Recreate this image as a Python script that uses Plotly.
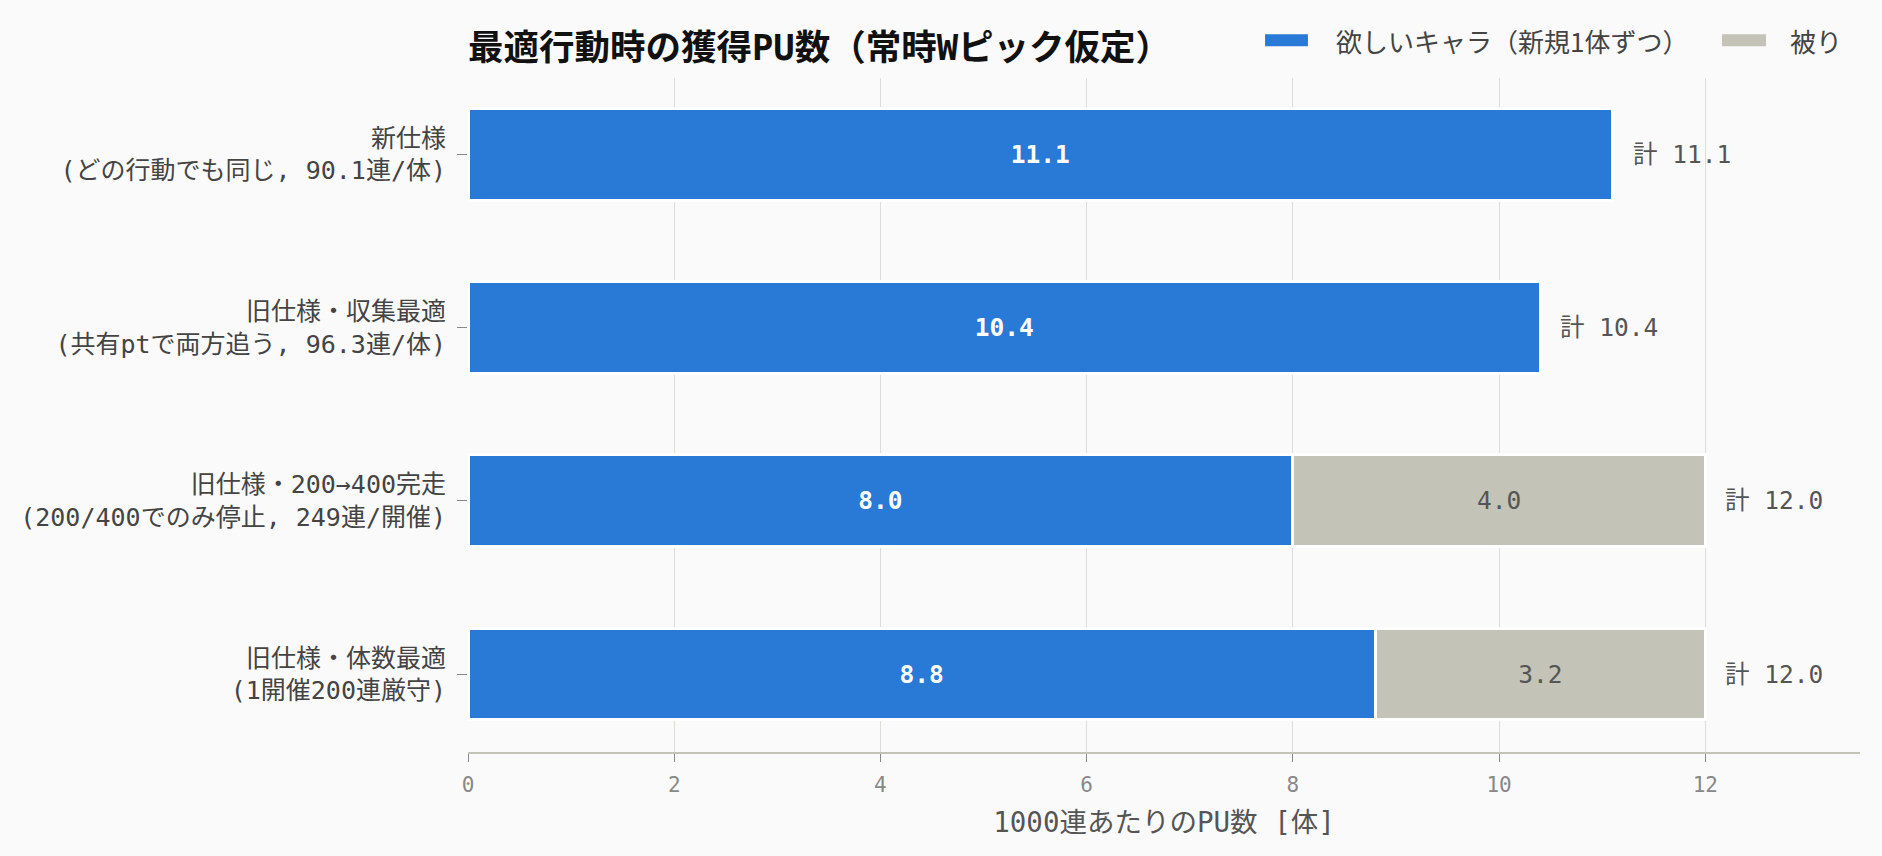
import plotly.graph_objects as go

# data
categories = [
    "新仕様<br>(どの行動でも同じ, 90.1連/体)",
    "旧仕様・収集最適<br>(共有ptで両方追う, 96.3連/体)",
    "旧仕様・200→400完走<br>(200/400でのみ停止, 249連/開催)",
    "旧仕様・体数最適<br>(1開催200連厳守)",
]
wanted = [11.1, 10.4, 8.0, 8.8]
dupes = [None, None, 4.0, 3.2]
totals = [11.1, 10.4, 12.0, 12.0]
series_names = ["欲しいキャラ（新規1体ずつ）", "被り"]
x_ticks = [0, 2, 4, 6, 8, 10, 12]

BLUE = "#2979D6"
GREY = "#C3C3B7"
BG = "#FAFAFA"
MONO = "DejaVu Sans Mono, Noto Sans CJK JP, sans-serif"

fig = go.Figure()

fig.add_trace(go.Bar(
    y=categories, x=wanted, orientation="h", name=series_names[0],
    marker=dict(color=BLUE, line=dict(color="white", width=3)),
    width=0.53,
    texttemplate="%{x:.1f}", textposition="inside", insidetextanchor="middle",
    textangle=0,
    insidetextfont=dict(family=MONO, size=24.5, color="white", weight="bold"),
    showlegend=False, hoverinfo="x+y",
))
fig.add_trace(go.Bar(
    y=categories, x=dupes, orientation="h", name=series_names[1],
    marker=dict(color=GREY, line=dict(color="white", width=3)),
    width=0.53,
    texttemplate="%{x:.1f}", textposition="inside", insidetextanchor="middle",
    textangle=0,
    insidetextfont=dict(family=MONO, size=24.5, color="#555555"),
    showlegend=False, hoverinfo="x+y",
))

# totals to the right of each bar
for cat, t in zip(categories, totals):
    fig.add_annotation(
        x=t, y=cat, text=f"計 {t:.1f}", showarrow=False,
        xanchor="left", xshift=18,
        font=dict(family=MONO, size=24.5, color="#555555"),
    )

# legend drawn by hand so the swatches are wide rectangles
legend_items = [
    (series_names[0], BLUE, 0.5726, 0.6034, 0.622),
    (series_names[1], GREY, 0.9009, 0.9325, 0.948),
]
for label, color, x0, x1, xt in legend_items:
    fig.add_shape(type="rect", xref="paper", yref="paper",
                  x0=x0, x1=x1, y0=1.047, y1=1.065,
                  fillcolor=color, line=dict(width=0))
    fig.add_annotation(xref="paper", yref="paper", x=xt, y=1.056,
                       text=label, showarrow=False,
                       xanchor="left", yanchor="middle",
                       font=dict(family="Noto Sans CJK JP", size=26, color="#444444"))

fig.update_layout(
    width=1882, height=856,
    barmode="stack",
    paper_bgcolor=BG, plot_bgcolor=BG,
    margin=dict(l=468, r=22, t=78, b=104),
    title=dict(
        text="<b>最適行動時の獲得PU数（常時Wピック仮定）</b>",
        x=0, xref="paper", xanchor="left",
        y=1 - 48 / 856, yref="container", yanchor="middle",
        font=dict(family=MONO, size=35.5, color="#111111"),
    ),
    xaxis=dict(
        range=[0, 13.5], tickvals=x_ticks,
        showgrid=True, gridcolor="#DDDDD8", gridwidth=1,
        zeroline=False,
        showline=True, linecolor="#C3C3B7", linewidth=2,
        ticks="outside", ticklen=8, tickcolor="#888888",
        ticklabelstandoff=5,
        tickfont=dict(family=MONO, size=21, color="#888888"),
        title=dict(text="1000連あたりのPU数 [体]", standoff=17,
                   font=dict(family=MONO, size=27.5, color="#555555")),
    ),
    yaxis=dict(
        range=[3.45, -0.44], showgrid=False, zeroline=False, showline=False,
        automargin=False,
        ticks="outside", ticklen=10, tickcolor="#888888",
        ticklabelstandoff=6,
        tickfont=dict(family=MONO, size=25, color="#444444"),
    ),
)

fig.write_html("out.html", config={"displayModeBar": False},
               post_script="document.body.style.margin='0px';")
